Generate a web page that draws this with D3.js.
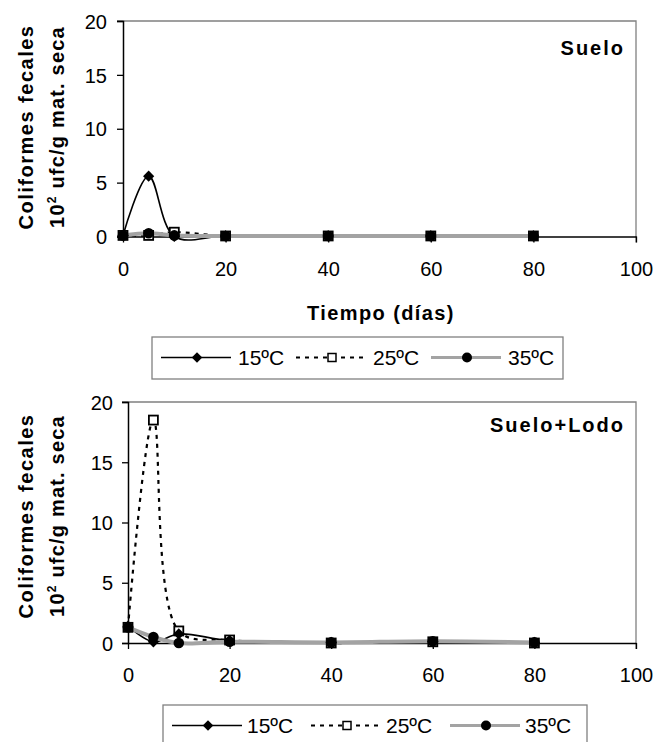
<!DOCTYPE html>
<html>
<head>
<meta charset="utf-8">
<script src="https://cdn.jsdelivr.net/npm/d3@7"></script>
<style>
  body { margin: 0; background: #fff; }
  svg { display: block; font-family: "Liberation Sans", Arial, sans-serif; }
</style>
</head>
<body>
<svg id="chart" width="660" height="742"></svg>
<script>
// dias de muestreo
var dias = [0, 5, 10, 20, 40, 60, 80];
var xTicks = [0, 20, 40, 60, 80, 100];
var yTicks = [0, 5, 10, 15, 20];
var series = ["15ºC", "25ºC", "35ºC"];

// Suelo
var suelo15 = [0.1, 5.6, 0.0, 0.05, 0.05, 0.05, 0.05];
var suelo25 = [0.1, 0.1, 0.4, 0.05, 0.05, 0.05, 0.05];
var suelo35 = [0.1, 0.3, 0.1, 0.05, 0.05, 0.05, 0.05];

// Suelo+Lodo
var lodo15 = [1.4, 0.1, 0.75, 0.2, 0.05, 0.1, 0.05];
var lodo25 = [1.3, 18.5, 1.0, 0.25, 0.0, 0.1, 0.0];
var lodo35 = [1.3, 0.5, 0.0, 0.1, 0.05, 0.15, 0.05];

var gris = "#a3a3a3";
var svg = d3.select("#chart");

function panel(cfg) {
  var x = d3.scaleLinear().domain([0, 100]).range([cfg.x0, cfg.x1]);
  var y = d3.scaleLinear().domain([0, 20]).range([cfg.y0, cfg.y1]);
  var g = svg.append("g");

  // borde superior y derecho
  g.append("path")
    .attr("d", "M" + (cfg.x0 - 6) + "," + cfg.y1 + "H" + cfg.x1 + "V" + (cfg.y0 + 6))
    .attr("fill", "none").attr("stroke", "#808080").attr("stroke-width", 1.3);

  // eje Y
  var ya = g.append("g").attr("transform", "translate(" + cfg.x0 + ",0)")
    .call(d3.axisLeft(y).tickValues(yTicks).tickSize(6).tickPadding(cfg.yPad));
  ya.select(".domain").attr("stroke", "#000").attr("stroke-width", 1.5);
  ya.selectAll(".tick line").attr("stroke", "#000").attr("stroke-width", 1.3);
  ya.selectAll("text").attr("font-size", 20).attr("fill", "#000").attr("dy", "0.36em");

  // eje X
  var xa = g.append("g").attr("transform", "translate(0," + cfg.y0 + ")")
    .call(d3.axisBottom(x).tickValues(xTicks).tickSize(6).tickPadding(19).tickSizeOuter(0));
  xa.select(".domain").attr("stroke", "#000").attr("stroke-width", 1.5);
  xa.selectAll(".tick line").attr("stroke", "#000").attr("stroke-width", 1.3);
  xa.selectAll("text").attr("font-size", 20).attr("fill", "#000");

  var line = d3.line()
    .x(function (d, i) { return x(dias[i]); })
    .y(function (d) { return y(d); })
    .curve(d3.curveCatmullRom.alpha(0.5));

  // 25ºC punteada
  g.append("path").datum(cfg.s25).attr("d", line)
    .attr("fill", "none").attr("stroke", "#000").attr("stroke-width", 2.2)
    .attr("stroke-dasharray", "4,5");
  // 15ºC continua
  g.append("path").datum(cfg.s15).attr("d", line)
    .attr("fill", "none").attr("stroke", "#000").attr("stroke-width", 1.6);
  // 35ºC gris gruesa
  g.append("path").datum(cfg.s35).attr("d", line)
    .attr("fill", "none").attr("stroke", gris).attr("stroke-width", 4);

  g.selectAll(".sq").data(cfg.s25).enter().append("rect")
    .attr("x", function (d, i) { return x(dias[i]) - 4.5; })
    .attr("y", function (d) { return y(d) - 4.5; })
    .attr("width", 9).attr("height", 9)
    .attr("fill", "#fff").attr("stroke", "#000").attr("stroke-width", 1.8);
  g.selectAll(".dm").data(cfg.s15).enter().append("path")
    .attr("d", d3.symbol(d3.symbolDiamond2, 80))
    .attr("transform", function (d, i) { return "translate(" + x(dias[i]) + "," + y(d) + ")"; })
    .attr("fill", "#000");
  g.selectAll(".ci").data(cfg.s35).enter().append("circle")
    .attr("cx", function (d, i) { return x(dias[i]); })
    .attr("cy", function (d) { return y(d); })
    .attr("r", 5.3).attr("fill", "#000");

  // titulo del panel
  g.append("text").attr("x", 625).attr("y", cfg.labelY)
    .attr("text-anchor", "end").attr("font-size", 20).attr("font-weight", "bold")
    .attr("letter-spacing", 2).text(cfg.label);

  // titulo eje Y
  var t = g.append("text").attr("transform", "translate(33," + cfg.titleY + ") rotate(-90)")
    .attr("text-anchor", "middle").attr("font-size", 20).attr("font-weight", "bold")
    .attr("letter-spacing", 1.5);
  t.text("Coliformes fecales");
  var t2 = g.append("text").attr("transform", "translate(64," + cfg.titleY + ") rotate(-90)")
    .attr("text-anchor", "middle").attr("font-size", 20).attr("font-weight", "bold")
    .attr("letter-spacing", 1.2);
  t2.append("tspan").text("10");
  t2.append("tspan").attr("font-size", 12).attr("dy", -8).text("2");
  t2.append("tspan").attr("dy", 8).text(" ufc/g mat. seca");

  if (cfg.xTitle) {
    g.append("text").attr("x", 381).attr("y", cfg.xTitleY)
      .attr("text-anchor", "middle").attr("font-size", 20).attr("font-weight", "bold")
      .attr("letter-spacing", 1.4).text(cfg.xTitle);
  }

  legend(cfg.leg);
}

function legend(L) {
  var g = svg.append("g").attr("transform", "translate(" + L.x + "," + L.y + ")");
  g.append("rect").attr("x", 0).attr("y", 0).attr("width", L.w).attr("height", 42)
    .attr("fill", "#fff").attr("stroke", "#808080").attr("stroke-width", 1.3);
  var cy = 20.5;
  series.forEach(function (s, i) {
    var x0 = 9 + i * L.step;
    var ln = g.append("line").attr("x1", x0).attr("x2", x0 + 70).attr("y1", cy).attr("y2", cy)
      .attr("stroke", i === 2 ? gris : "#000")
      .attr("stroke-width", i === 0 ? 1.6 : (i === 1 ? 2.2 : 3));
    if (i === 1) ln.attr("stroke-dasharray", "4,5");
    var mx = x0 + 36;
    if (i === 0) {
      g.append("path").attr("d", d3.symbol(d3.symbolDiamond2, 70))
        .attr("transform", "translate(" + mx + "," + cy + ")").attr("fill", "#000");
    } else if (i === 1) {
      g.append("rect").attr("x", mx - 4).attr("y", cy - 4).attr("width", 8).attr("height", 8)
        .attr("fill", "#fff").attr("stroke", "#000").attr("stroke-width", 1.5);
    } else {
      g.append("circle").attr("cx", mx).attr("cy", cy).attr("r", 5).attr("fill", "#000");
    }
    g.append("text").attr("x", x0 + L.tx).attr("y", cy + 7.5).attr("font-size", 21).text(s);
  });
}

panel({
  x0: 123, x1: 636, y0: 236.5, y1: 21, yPad: 10,
  s15: suelo15, s25: suelo25, s35: suelo35,
  label: "Suelo", labelY: 55, titleY: 127,
  xTitle: "Tiempo (días)", xTitleY: 320,
  leg: { x: 152, y: 337, w: 411, step: 135, tx: 77 }
});

panel({
  x0: 128, x1: 636, y0: 643, y1: 402, yPad: 9,
  s15: lodo15, s25: lodo25, s35: lodo35,
  label: "Suelo+Lodo", labelY: 432, titleY: 516,
  leg: { x: 163, y: 705, w: 424, step: 139, tx: 75 }
});
</script>
</body>
</html>
